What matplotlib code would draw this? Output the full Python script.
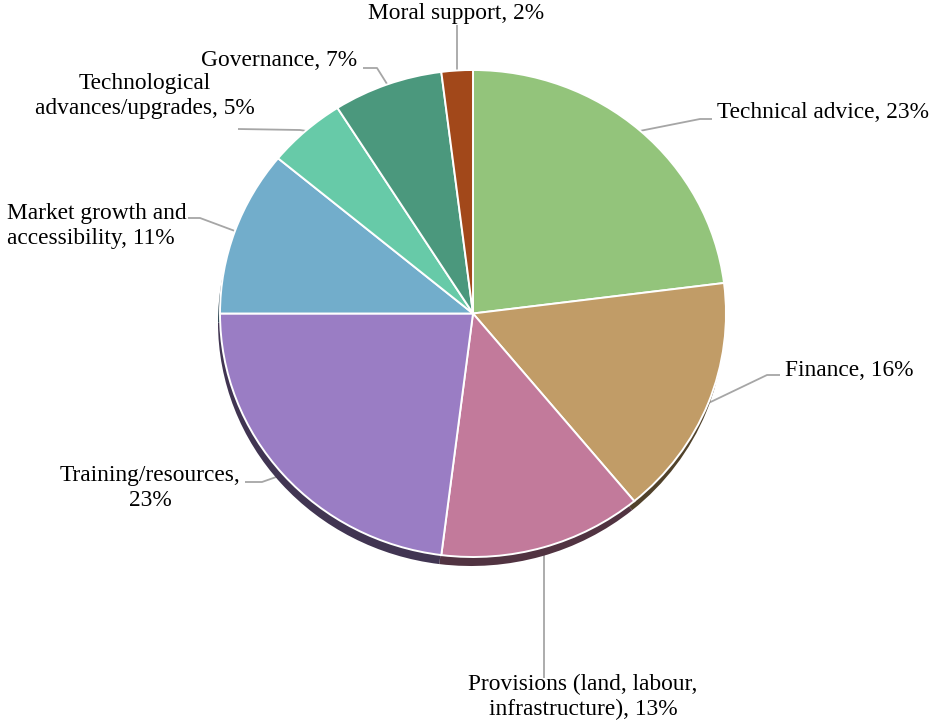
import numpy as np
import matplotlib
matplotlib.use("Agg")
import matplotlib.pyplot as plt
from matplotlib.colors import to_rgb

plt.rcParams['font.family'] = ['Liberation Serif', 'DejaVu Serif']

# datos
names = ["Technical advice", "Finance", "Provisions (land, labour,\ninfrastructure)",
         "Training/resources", "Market growth and\naccessibility",
         "Technological\nadvances/upgrades", "Governance", "Moral support"]
seps = [", ", ", ", ", ", ",\n", ", ", ", ", ", ", ", "]
values = [23, 16, 13, 23, 11, 5, 7, 2]
colors = ["#93C47B", "#C19C67", "#C27A9B", "#9A7DC4",
          "#72ADCB", "#67CAA8", "#4B987D", "#A2481A"]

W, H = 935, 727
cx, cy = 473, 313.5      # centro de la tarta en pixeles
rx, ry = 253, 243.5      # radios en pixeles (algo achatada)


def px(x, y):
    # pixeles (origen arriba-izq) -> coordenadas de datos
    return (x - cx) / rx, (cy - y) / ry


# posicion de los textos y codos de las guias (pixeles)
text_pos = [(717, 112), (785, 370), (583, 697), (150, 488),
            (7, 226), (145, 96), (357, 60), (368, 13)]
text_ha = ["left", "left", "center", "center", "left", "center", "right", "left"]
elbows = [(700, 119), (767, 375), (None, 678), (262, 482),
          (200, 218), (300, 130), (377, 68), (None, 25)]
ends = [(712, 119), (780, 375), (None, 678), (245, 482),
        (188, 218), (238, 129), (363, 68), (None, 25)]

fig = plt.figure(figsize=(W / 100, H / 100), dpi=100)
ax = fig.add_axes([0, 0, 1, 1])

# borde inferior oscuro (efecto 3d)
dark = [tuple(c * 0.42 for c in to_rgb(col)) for col in colors]
sx, sy = -2 / rx, -9 / ry
ax.pie(values, colors=dark, startangle=90, counterclock=False,
       center=(sx, sy), radius=1, wedgeprops=dict(linewidth=0), frame=True)
wedges, _ = ax.pie(values, colors=colors, startangle=90, counterclock=False,
                   radius=1, frame=True,
                   wedgeprops=dict(edgecolor="white", linewidth=1.4))
for w in wedges:
    w.set_zorder(3)
for p in ax.patches:
    if p not in wedges:
        p.set_zorder(2)

for i, w in enumerate(wedges):
    ang = np.deg2rad((w.theta1 + w.theta2) / 2)
    ax_, ay_ = np.cos(ang), np.sin(ang)
    ex, ey = ends[i]
    bx, by = elbows[i]
    if ex is None:
        ex = bx = cx + ax_ * rx
    p1 = px(ex, ey)
    p2 = px(bx, by)
    ax.plot([p1[0], p2[0], ax_], [p1[1], p2[1], ay_], color="#A6A6A6",
            lw=1.3, zorder=1, solid_capstyle="butt")
    tx, ty = px(*text_pos[i])
    ax.text(tx, ty, f"{names[i]}{seps[i]}{values[i]}%", ha=text_ha[i],
            va="center", multialignment=text_ha[i], fontsize=16.8,
            linespacing=1.25, color="black", zorder=5)

x0, _ = px(0, 0)
x1, _ = px(W, 0)
_, y0 = px(0, H)
_, y1 = px(0, 0)
ax.set_xlim(x0, x1)
ax.set_ylim(y0, y1)
ax.set_aspect("auto")
ax.axis("off")

fig.savefig("out.png", dpi=100, facecolor="white")
